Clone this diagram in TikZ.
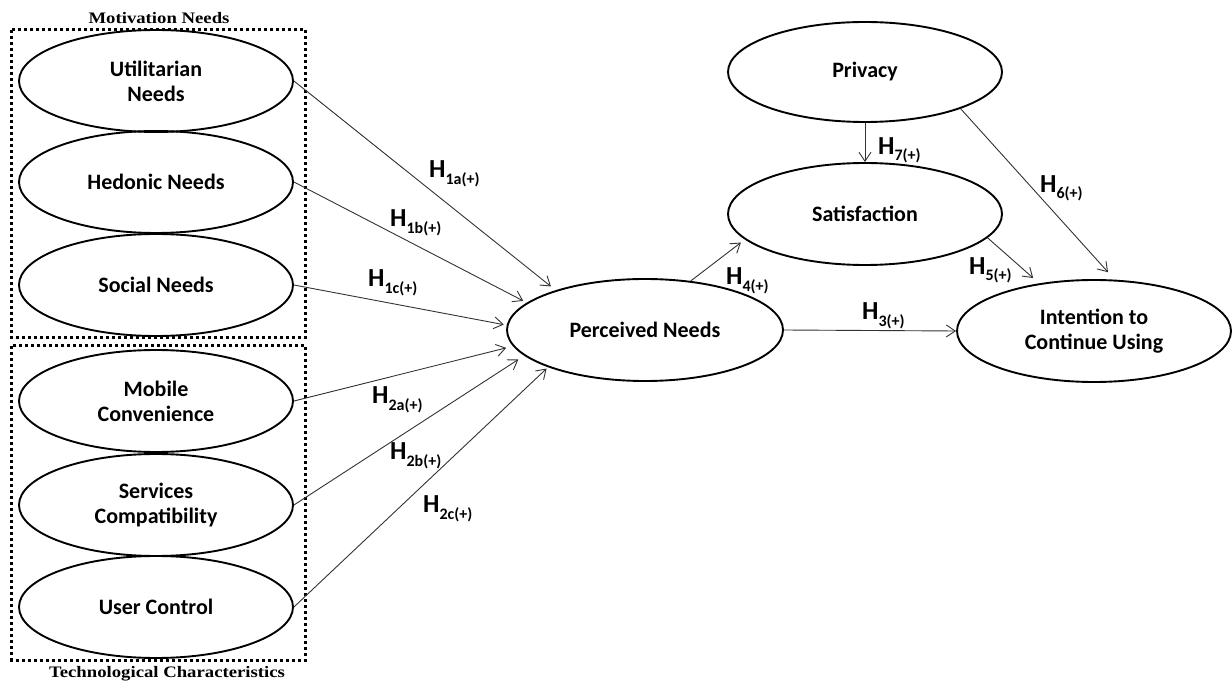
\documentclass[tikz,border=0pt]{standalone}
\usepackage{fontspec}
\setmainfont{Carlito}
\newfontfamily\serifbf{Liberation Serif}
\usetikzlibrary{shapes.geometric,arrows.meta}
\tikzset{
  construct/.style={ellipse, draw=black, line width=1.9pt, minimum width=274pt, minimum height=102pt, inner sep=0pt, align=center, font=\fontsize{22}{25}\selectfont\bfseries},
  link/.style={draw=black!80, line width=0.9pt, -{Straight Barb[length=9pt,width=12pt,line width=0.9pt]}},
  groupbox/.style={draw=black, line width=3pt, dash pattern=on 3pt off 3pt},
  grouplabel/.style={font=\serifbf\fontsize{16}{16}\selectfont\bfseries, inner sep=0pt, anchor=base},
  hyp/.style={inner sep=0pt, anchor=base west}
}
\newcommand\hlab[2][-7pt]{{\fontsize{26}{26}\selectfont\bfseries H}\raisebox{#1}{\fontsize{16}{16}\selectfont\bfseries #2}}
\newcommand\widetxt[1]{\scalebox{1.17}[1]{#1}}
\begin{document}
\begin{tikzpicture}[x=1pt,y=-1pt]
\useasboundingbox (0,0) rectangle (1232,684);
% group boxes
\draw[groupbox] (11.5,30) rectangle (305.5,337.5);
\draw[groupbox] (11.5,346) rectangle (305.5,660);
\node[grouplabel] (mlab) at (159,24) {\widetxt{Motivation Needs}};
\node[grouplabel] (tlab) at (167,677) {\widetxt{Technological Characteristics}};
% constructs
\node[construct] (ut) at (156,81) {Utilitarian\\Needs};
\node[construct] (he) at (156,182) {Hedonic Needs};
\node[construct] (so) at (156,285) {Social Needs};
\node[construct] (mo) at (156,401) {Mobile\\Convenience};
\node[construct] (se) at (156,505) {Services\\Compatibility};
\node[construct] (uc) at (156,607) {User Control};
\node[construct, minimum width=276pt] (pn) at (645,330) {Perceived Needs};
\node[construct, minimum height=100pt] (pr) at (865,72) {Privacy};
\node[construct] (sa) at (865,214) {Satisfaction};
\node[construct] (in) at (1094,331) {Intention to\\Continue Using};
% connectors
\draw[link, shorten >=6pt] (ut.east) -- (pn.156);
\draw[link, shorten >=4pt] (he.east) -- (pn.167.5);
\draw[link, shorten >=3pt] (so.east) -- (pn.178);
\draw[link, shorten >=7pt] (mo.east) -- (pn.187);
\draw[link, shorten >=7pt] (se.east) -- (pn.192.4);
\draw[link, shorten >=2pt] (uc.east) -- (pn.201);
\draw[link, shorten >=5pt] (pn.47) -- (sa.192.4);
\draw[link] (pn.east) -- (in.west);
\draw[link] (pr.south) -- (sa.north);
\draw[link, shorten >=10pt] (pr.-21.2) -- (in.68.8);
\draw[link, shorten >=8pt] (sa.-11.6) -- (in.139.6);
% hypothesis labels
\node[hyp] (h1a) at (429,178) {\hlab{1a(+)}};
\node[hyp] (h1b) at (390,227) {\hlab{1b(+)}};
\node[hyp] (h1c) at (368,287) {\hlab{1c(+)}};
\node[hyp] (h2a) at (372,404) {\hlab{2a(+)}};
\node[hyp] (h2b) at (390,460) {\hlab{2b(+)}};
\node[hyp] (h2c) at (423,512) {\hlab{2c(+)}};
\node[hyp] (h4) at (726,285) {\hlab{4(+)}};
\node[hyp] (h3) at (862,320) {\hlab{3(+)}};
\node[hyp] (h7) at (878,155) {\hlab[-6pt]{7(+)}};
\node[hyp] (h6) at (1040,193) {\hlab[-6pt]{6(+)}};
\node[hyp] (h5) at (969,275) {\hlab[-6pt]{5(+)}};
\end{tikzpicture}
\end{document}
